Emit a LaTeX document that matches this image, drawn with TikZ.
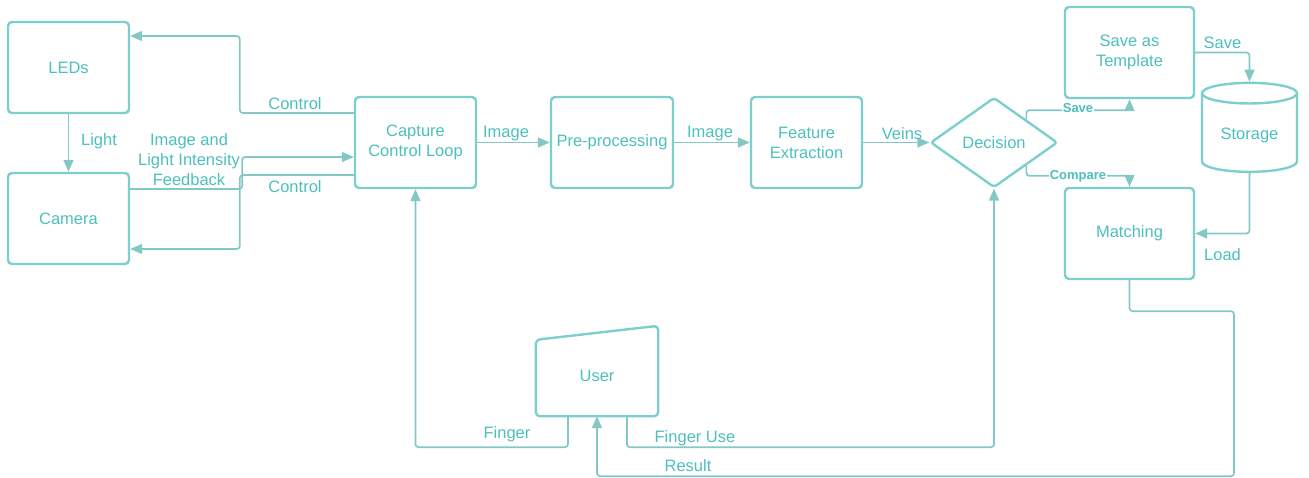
\documentclass[tikz,border=0pt]{standalone}
\usepackage{fontspec}
\setmainfont{Liberation Sans}
\usetikzlibrary{arrows.meta,shapes.geometric,calc}

\definecolor{boxteal}{RGB}{125,207,205}
\definecolor{wireteal}{RGB}{132,200,198}
\definecolor{textteal}{RGB}{76,192,188}

\begin{document}
\begin{tikzpicture}[x=1pt, y=-1pt,
  every node/.style={font=\fontsize{16.5}{20}\selectfont, text=textteal},
  block/.style={draw=boxteal, line width=2.4pt, rounded corners=4pt, align=center,
    minimum width=121pt, minimum height=91pt, inner sep=2pt},
  wire/.style={draw=wireteal, line width=1.7pt, rounded corners=3pt,
    -{Triangle[length=12pt,width=10pt]}},
  tag/.style={font=\bfseries\fontsize{13}{15}\selectfont, fill=white, inner sep=1pt}]
  \useasboundingbox (0,0) rectangle (1309,477);

  % blocks
  \node[block] (leds) at (68.5,67.5) {LEDs};
  \node[block] (camera) at (68.5,218.5) {Camera};
  \node[block] (capture) at (415.5,142.5) {Capture\\Control Loop};
  \node[block, minimum width=122pt] (pre) at (612,142.5) {Pre-processing};
  \node[block, minimum width=111pt] (feature) at (806.5,142.5) {Feature\\Extraction};
  \node[diamond, draw=boxteal, line width=2.4pt, rounded corners=3pt, aspect=1.42,
    minimum width=127pt, minimum height=90pt, inner sep=0pt] (decision) at (994,142.5) {Decision};
  \node[block, minimum width=129pt] (template) at (1129.5,52.5) {Save as\\Template};
  \node[block, minimum width=129pt] (matching) at (1129.5,233.5) {Matching};
  \node[cylinder, shape border rotate=90, aspect=0.32, draw=boxteal, line width=2.4pt,
    minimum width=95pt, minimum height=89pt] (storage) at (1249.5,135) {Storage};

  % user, slanted top
  \node[minimum width=122pt, minimum height=80pt, inner sep=0pt] (user) at (597,376) {User};
  \draw[boxteal, line width=2.4pt, rounded corners=4pt]
    (user.south west) -- ($(user.north west)+(0,4)$) -- ($(user.north east)+(0,-10)$)
    -- (user.south east) -- cycle;

  % connectors
  \draw[wire] ($(capture.west)+(0,-29.5)$) -- ++(-114,0) |- ($(leds.east)+(0,-31.5)$);
  \draw[wire] (leds) -- (camera);
  \draw[wire] ($(camera.east)+(0,-29.5)$) -- ++(112,0) |- ($(capture.west)+(0,14.5)$);
  \draw[wire] ($(capture.west)+(0,32.5)$) -- ++(-114,0) |- ($(camera.east)+(0,30.5)$);
  \draw[wire] (capture) -- (pre);
  \draw[wire] (pre) -- (feature);
  \draw[wire] (feature) -- (decision);
  \draw[wire] (decision.north east) |- ($(template.south)+(0,11)$) -- (template.south);
  \draw[wire] (decision.south east) |- ($(matching.north)+(0,-11)$) -- (matching.north);
  \draw[wire] (template.east) -| (storage.north);
  \draw[wire] (storage.south) |- (matching.east);
  \draw[wire] ($(user.south)+(-29,0)$) -- ++(0,31) -| (capture.south);
  \draw[wire] ($(user.south)+(30,0)$) -- ++(0,31) -| (decision.south);
  \draw[wire] (matching.south) -- ++(0,31) -- ++(104.5,0) -- ++(0,165) -| (user.south);

  % labels
  \node (ctrlleds) at (295,104) {Control};
  \node (light) at (99,141) {Light};
  \node[align=center] (feedback) at (189,160) {Image and\\Light Intensity\\Feedback};
  \node (ctrlcam) at (295,187) {Control};
  \node (imagea) at (506,134) {Image};
  \node (imageb) at (710,134) {Image};
  \node (veins) at (902,134) {Veins};
  \node[tag] (tagsave) at (1078,108) {Save};
  \node[tag] (tagcompare) at (1078,176.5) {Compare};
  \node (savedb) at (1222.5,43) {Save};
  \node (load) at (1222.5,255) {Load};
  \node (finger) at (507,434) {Finger};
  \node (fingeruse) at (695,438) {Finger Use};
  \node (result) at (688,466) {Result};
\end{tikzpicture}
\end{document}
